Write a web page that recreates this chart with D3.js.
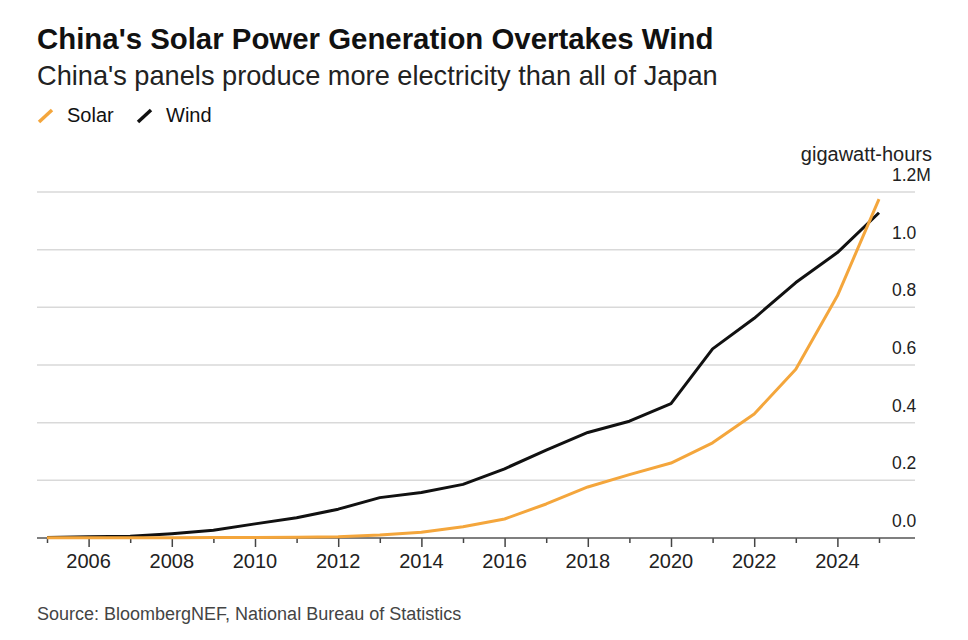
<!DOCTYPE html>
<html>
<head>
<meta charset="utf-8">
<script src="https://cdn.jsdelivr.net/npm/d3@7"></script>
<style>
  body { margin: 0; background: #fff; }
  text { font-family: "Liberation Sans", Arial, sans-serif; }
</style>
</head>
<body>
<script>
// China solar vs wind generation (million GWh)

var years = [2005, 2006, 2007, 2008, 2009, 2010, 2011, 2012, 2013, 2014, 2015,
             2016, 2017, 2018, 2019, 2020, 2021, 2022, 2023, 2024, 2025];
var solarValues = [0.0005, 0.0006, 0.0008, 0.001, 0.0015, 0.002, 0.003, 0.004, 0.01, 0.02, 0.039,
                   0.066, 0.118, 0.177, 0.22, 0.26, 0.33, 0.43, 0.585, 0.84, 1.175];
var windValues = [0.002, 0.004, 0.006, 0.015, 0.027, 0.049, 0.07, 0.10, 0.14, 0.158, 0.186,
                  0.24, 0.305, 0.366, 0.405, 0.466, 0.656, 0.762, 0.886, 0.99, 1.128];
var yTicks = [0, 0.2, 0.4, 0.6, 0.8, 1.0, 1.2];
var xLabelYears = [2006, 2008, 2010, 2012, 2014, 2016, 2018, 2020, 2022, 2024];
var seriesNames = ["Solar", "Wind"];
var seriesColors = ["#f4a63c", "#111111"];

var width = 968, height = 640;

var svg = d3.select("body").append("svg")
    .attr("width", width)
    .attr("height", height);

//scales
var x = d3.scaleLinear().domain([2005, 2025]).range([47, 879]);
var y = d3.scaleLinear().domain([0, 1.2]).range([538, 192]);

//title block
svg.append("text")
    .attr("x", 37).attr("y", 49)
    .style("font-size", "29.4px").style("font-weight", "bold").style("fill", "#111")
    .text("China's Solar Power Generation Overtakes Wind");

svg.append("text")
    .attr("x", 37).attr("y", 85)
    .style("font-size", "27.2px").style("fill", "#222")
    .text("China's panels produce more electricity than all of Japan");

//legend
var legend = svg.selectAll(".legend")
    .data(seriesNames)
    .enter()
    .append("g")
    .attr("class", "legend")
    .attr("transform", function(d, i){ return "translate(" + (39 + i * 99) + ",0)"; });

legend.append("line")
    .attr("x1", 0).attr("y1", 122).attr("x2", 13).attr("y2", 110)
    .style("stroke", function(d, i){ return seriesColors[i]; })
    .style("stroke-width", 3.5);

legend.append("text")
    .attr("x", 28).attr("y", 122)
    .style("font-size", "20px").style("fill", "#111")
    .text(function(d){ return d; });

//gridlines
svg.selectAll(".grid")
    .data(yTicks.slice(1))
    .enter()
    .append("line")
    .attr("class", "grid")
    .attr("x1", 37).attr("x2", 915)
    .attr("y1", function(d){ return y(d); })
    .attr("y2", function(d){ return y(d); })
    .style("stroke", "#d9d9d9")
    .style("stroke-width", 1.5);

//y labels
svg.selectAll(".ylab")
    .data(yTicks)
    .enter()
    .append("text")
    .attr("class", "ylab")
    .attr("x", 892)
    .attr("y", function(d){ return y(d) - 11; })
    .style("font-size", "17.5px").style("fill", "#222")
    .text(function(d){ return d === 1.2 ? "1.2M" : d3.format(".1f")(d); });

svg.append("text")
    .attr("x", 932).attr("y", 161)
    .attr("text-anchor", "end")
    .style("font-size", "20px").style("fill", "#222")
    .text("gigawatt-hours");

//x axis
var xAxis = d3.axisBottom(x)
    .tickValues(years)
    .tickSize(0)
    .tickFormat("");

var gx = svg.append("g")
    .attr("transform", "translate(0," + y(0) + ")")
    .call(xAxis);
gx.select(".domain").remove();

gx.append("line")
    .attr("x1", 37).attr("x2", 915)
    .style("stroke", "#555").style("stroke-width", 1.5);

gx.selectAll(".tick line")
    .attr("y2", function(d){ return d % 2 === 0 ? 9 : 5; })
    .style("stroke", "#444").style("stroke-width", 1.5);

svg.selectAll(".xlab")
    .data(xLabelYears)
    .enter()
    .append("text")
    .attr("class", "xlab")
    .attr("x", function(d){ return x(d); })
    .attr("y", 568)
    .attr("text-anchor", "middle")
    .style("font-size", "20px").style("fill", "#222")
    .text(function(d){ return d; });

//lines
var line = d3.line()
    .x(function(d){ return x(d[0]); })
    .y(function(d){ return y(d[1]); });

var seriesData = [solarValues, windValues];
// draw wind first so solar crosses on top
[1, 0].forEach(function(i){
    svg.append("path")
        .datum(years.map(function(yr, k){ return [yr, seriesData[i][k]]; }))
        .attr("d", line)
        .style("fill", "none")
        .style("stroke", seriesColors[i])
        .style("stroke-width", 3)
        .style("stroke-linejoin", "round");
});

//source
svg.append("text")
    .attr("x", 37).attr("y", 620)
    .style("font-size", "18px").style("fill", "#444")
    .text("Source: BloombergNEF, National Bureau of Statistics");
</script>
</body>
</html>
